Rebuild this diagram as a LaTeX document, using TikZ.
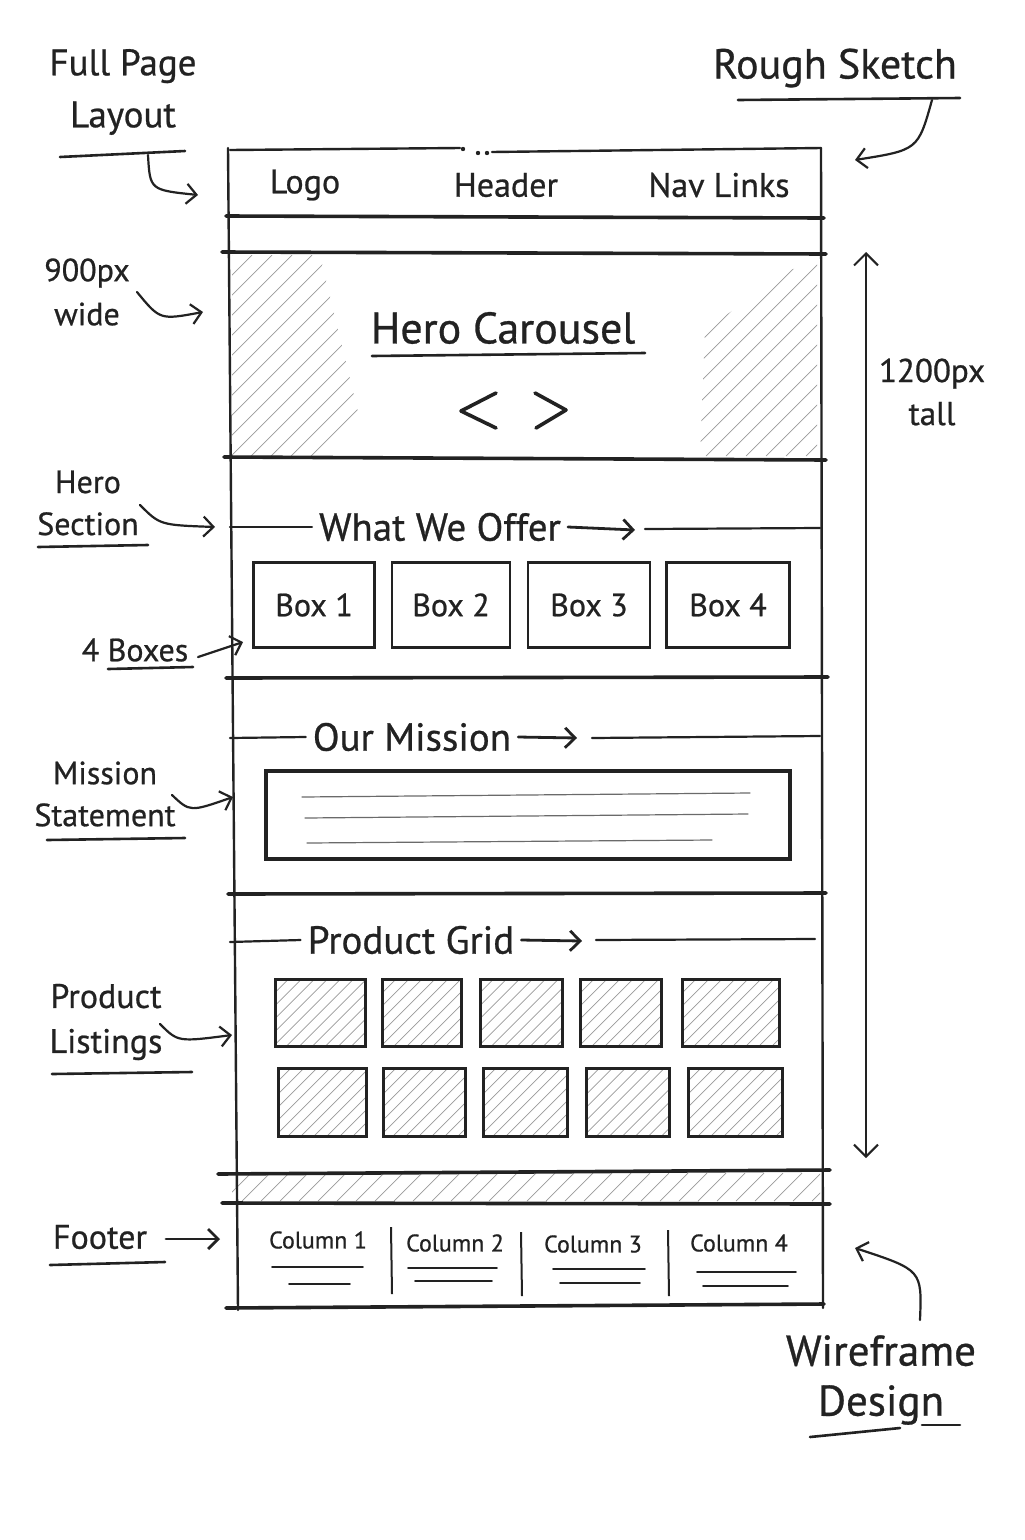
\documentclass[tikz,border=0pt]{standalone}
\usepackage{fontspec}
\setmainfont{PT Sans}[FakeBold=0.7]
\usetikzlibrary{arrows.meta}
\definecolor{ink}{HTML}{222222}
\definecolor{hatchc}{HTML}{9A9A9A}
\definecolor{softc}{HTML}{6A6A6A}
\newcommand\hatchlines[5]{%
  \pgfmathsetmacro\hH{#4-#2}%
  \pgfmathsetmacro\hstart{#1-\hH}%
  \pgfmathsetmacro\hnext{\hstart+#5}%
  \foreach \hx in {\hstart,\hnext,...,#3} {\draw[hatchline] (\hx,#4) -- ++(\hH,-\hH);}%
}
\newcommand\pbox[5]{%
  \pgfmathsetmacro\pxa{#2-#4/2}\pgfmathsetmacro\pxb{#2+#4/2}%
  \pgfmathsetmacro\pya{#3-#5/2}\pgfmathsetmacro\pyb{#3+#5/2}%
  \begin{scope}\clip (\pxa,\pya) rectangle (\pxb,\pyb); \hatchlines{\pxa}{\pya}{\pxb}{\pyb}{13}\end{scope}%
  \node[pboxst, minimum width=#4pt, minimum height=#5pt] (#1) at (#2,#3) {};%
}
\begin{document}
\begin{tikzpicture}[x=1pt,y=-1pt,
  framest/.style={draw=ink, line width=2.4pt, line cap=round},
  sepst/.style={draw=ink, line width=3.6pt, line cap=round},
  thinst/.style={draw=ink, line width=2.2pt, line cap=round},
  hatchline/.style={draw=hatchc, line width=0.7pt},
  lbl/.style={text=ink, inner sep=0pt, font=\fontsize{34}{40}\selectfont},
  ttl/.style={text=ink, inner sep=7pt, font=\fontsize{39}{44}\selectfont},
  ann/.style={text=ink, inner sep=0pt, align=center},
  boxst/.style={draw=ink, line width=2.8pt, inner sep=0pt, text=ink, font=\fontsize{32}{36}\selectfont},
  pboxst/.style={draw=ink, line width=3pt, inner sep=0pt},
  colst/.style={text=ink, inner sep=0pt, font=\fontsize{24}{28}\selectfont},
  arr/.style={draw=ink, line width=2.2pt, line cap=round, -{Straight Barb[length=10pt,width=20pt,line width=2.2pt]}},
  ularr/.style={draw=ink, line width=2.8pt, line cap=round, -{Straight Barb[length=10pt,width=20pt,line width=2.8pt]}},
  uline/.style={draw=ink, line width=2.6pt, line cap=round},
  textline/.style={draw=softc, line width=1.2pt, line cap=round}
]
\fill[white] (0,0) rectangle (1025,1540);
\useasboundingbox (0,0) rectangle (1025,1540);

% ---------- hatching ----------
\begin{scope}
  \clip (232,255) -- (320,255) -- (360,420) -- (320,456) -- (232,456) -- cycle;
  \hatchlines{232}{255}{360}{456}{20}
\end{scope}
\begin{scope}
  \clip (700,456) -- (705,330) -- (790,270) -- (817,262) -- (817,456) -- cycle;
  \hatchlines{700}{262}{817}{456}{20}
\end{scope}
\begin{scope}
  \clip (232,1173) rectangle (820,1201);
  \hatchlines{232}{1173}{820}{1201}{19}
\end{scope}

% ---------- frame ----------
\coordinate (ftl) at (228,148);
\coordinate (ftr) at (821,148);
\coordinate (fbl) at (238,1310);
\coordinate (fbr) at (823,1308);
\draw[framest] (ftl) -- (fbl);
\draw[framest] (ftr) -- (fbr);
\coordinate (tA) at (230,150); \coordinate (tB) at (460,148);
\coordinate (tC) at (492,152); \coordinate (tD) at (821,148);
\draw[framest] (tA) -- (tB);
\draw[framest] (tC) -- (tD);
\fill[ink] (463,149) circle (2.2pt) (478,153) circle (2.2pt) (487,153) circle (2.2pt);

% section separators
\coordinate (s1a) at (226,216); \coordinate (s1b) at (824,218);
\coordinate (s2a) at (222,252); \coordinate (s2b) at (826,254);
\coordinate (s3a) at (224,457); \coordinate (s3b) at (826,460);
\coordinate (s4a) at (226,678); \coordinate (s4b) at (828,677);
\coordinate (s5a) at (228,894); \coordinate (s5b) at (826,893);
\coordinate (s6a) at (218,1174); \coordinate (s6b) at (830,1170);
\coordinate (s7a) at (222,1203); \coordinate (s7b) at (830,1204);
\coordinate (s8a) at (226,1308); \coordinate (s8b) at (824,1304);
\foreach \s in {1,...,8} {\draw[sepst] (s\s a) -- (s\s b);}

% ---------- header ----------
\node[lbl] (logo) at (305,185) {Logo};
\node[lbl] (header) at (506,185) {Header};
\node[lbl] (nav) at (719,185) {Nav Links};

% ---------- hero ----------
\node[text=ink, inner sep=0pt, font=\fontsize{44}{50}\selectfont] (hero) at (503,328) {Hero Carousel};
\coordinate (hul) at (372,356); \coordinate (hur) at (645,353);
\draw[uline] (hul) -- (hur);
\coordinate (lt1) at (496,393); \coordinate (lt2) at (461,411); \coordinate (lt3) at (496,428);
\coordinate (gt1) at (535,393); \coordinate (gt2) at (566,410); \coordinate (gt3) at (536,428);
\draw[draw=ink, line width=3.6pt, line cap=round, line join=round] (lt1) -- (lt2) -- (lt3);
\draw[draw=ink, line width=3.6pt, line cap=round, line join=round] (gt1) -- (gt2) -- (gt3);

% ---------- what we offer ----------
\node[ttl] (offer) at (440,527) {What We Offer};
\coordinate (ofl) at (230,527);
\coordinate (ofa) at (635,530);
\coordinate (ofb) at (645,529); \coordinate (ofr) at (820,528);
\draw[thinst] (ofl) -- (offer.west);
\draw[ularr] (offer.east) -- (ofa);
\draw[thinst] (ofb) -- (ofr);
\node[boxst, minimum width=121pt, minimum height=85pt] (b1) at (314,605) {Box 1};
\node[boxst, minimum width=118pt, minimum height=85pt] (b2) at (451,605) {Box 2};
\node[boxst, minimum width=122pt, minimum height=85pt] (b3) at (589,605) {Box 3};
\node[boxst, minimum width=123pt, minimum height=85pt] (b4) at (728,605) {Box 4};

% ---------- our mission ----------
\node[ttl] (mission) at (412,737) {Our Mission};
\coordinate (msl) at (230,738);
\coordinate (msa) at (577,738);
\coordinate (msb) at (592,738); \coordinate (msr) at (820,736);
\draw[thinst] (msl) -- (mission.west);
\draw[ularr] (mission.east) -- (msa);
\draw[thinst] (msb) -- (msr);
\node[draw=ink, line width=3.2pt, minimum width=524pt, minimum height=88pt, inner sep=0pt] (mbox) at (528,815) {};
\coordinate (m1a) at (302,797); \coordinate (m1b) at (750,793);
\coordinate (m2a) at (305,818); \coordinate (m2b) at (748,814);
\coordinate (m3a) at (307,843); \coordinate (m3b) at (712,840);
\draw[textline] (m1a) -- (m1b);
\draw[textline] (m2a) -- (m2b);
\draw[textline] (m3a) -- (m3b);

% ---------- product grid ----------
\node[ttl] (grid) at (411,940) {Product Grid};
\coordinate (grl) at (230,942);
\coordinate (gra) at (582,941);
\coordinate (grb) at (596,940); \coordinate (grr) at (815,939);
\draw[thinst] (grl) -- (grid.west);
\draw[ularr] (grid.east) -- (gra);
\draw[thinst] (grb) -- (grr);
\pbox{p11}{320}{1013}{90}{67}
\pbox{p12}{422}{1013}{79}{67}
\pbox{p13}{521}{1013}{82}{67}
\pbox{p14}{621}{1013}{81}{67}
\pbox{p15}{731}{1013}{97}{67}
\pbox{p21}{322}{1102}{88}{68}
\pbox{p22}{424}{1102}{82}{68}
\pbox{p23}{525}{1102}{84}{68}
\pbox{p24}{628}{1102}{83}{68}
\pbox{p25}{735}{1102}{94}{68}

% ---------- footer ----------
\node[colst] (c1) at (318,1240) {Column 1};
\node[colst] (c2) at (455,1243) {Column 2};
\node[colst] (c3) at (593,1244) {Column 3};
\node[colst] (c4) at (739,1243) {Column 4};
\coordinate (d1a) at (391,1227); \coordinate (d1b) at (392,1294);
\coordinate (d2a) at (521,1232); \coordinate (d2b) at (522,1296);
\coordinate (d3a) at (668,1230); \coordinate (d3b) at (669,1296);
\draw[draw=ink, line width=2pt] (d1a) -- (d1b);
\draw[draw=ink, line width=2pt] (d2a) -- (d2b);
\draw[draw=ink, line width=2pt] (d3a) -- (d3b);
\foreach \xa/\xb/\ya/\xc/\xd/\yb [count=\i] in {272/363/1267/289/350/1284, 408/497/1268/415/492/1281, 553/645/1269/560/640/1283, 697/796/1272/703/788/1286}{
  \coordinate (fa\i) at (\xa,\ya); \coordinate (fb\i) at (\xb,\ya);
  \coordinate (fc\i) at (\xc,\yb); \coordinate (fd\i) at (\xd,\yb);
  \draw[draw=ink, line width=1.8pt, line cap=round] (fa\i) -- (fb\i);
  \draw[draw=ink, line width=1.8pt, line cap=round] (fc\i) -- (fd\i);
}

% ---------- left annotations ----------
\node[ann, font=\fontsize{37}{52}\selectfont] (fpl) at (123,92) {Full Page\\Layout};
\coordinate (fpu1) at (60,157); \coordinate (fpu2) at (185,151);
\draw[uline] (fpu1) -- (fpu2);
\coordinate (fps) at (148,155); \coordinate (fpe) at (198,195);
\draw[arr] (fps) .. controls (150,190) .. (fpe);

\node[ann, font=\fontsize{32}{44}\selectfont] (wide) at (87,292) {900px\\wide};
\coordinate (wds) at (137,292); \coordinate (wde) at (203,312);
\draw[arr] (wds) .. controls (160,320) .. (wde);

\node[ann, font=\fontsize{32}{42}\selectfont] (herosec) at (88,503) {Hero\\Section};
\coordinate (hsu1) at (38,547); \coordinate (hsu2) at (148,545);
\draw[uline] (hsu1) -- (hsu2);
\coordinate (hss) at (140,505); \coordinate (hse) at (215,527);
\draw[arr] (hss) .. controls (160,525) .. (hse);

\node[ann, font=\fontsize{32}{40}\selectfont] (boxes) at (135,650) {4 Boxes};
\coordinate (bxu1) at (108,669); \coordinate (bxu2) at (193,667);
\draw[uline] (bxu1) -- (bxu2);
\coordinate (bxs) at (198,657); \coordinate (bxe) at (243,642);
\draw[arr] (bxs) -- (bxe);

\node[ann, font=\fontsize{32}{42}\selectfont] (mstate) at (105,794) {Mission\\Statement};
\coordinate (msu1) at (47,840); \coordinate (msu2) at (185,838);
\draw[uline] (msu1) -- (msu2);
\coordinate (mss) at (172,795); \coordinate (mse) at (233,797);
\draw[arr] (mss) .. controls (190,812) .. (mse);

\node[ann, font=\fontsize{34}{45}\selectfont] (plist) at (106,1022) {Product\\Listings};
\coordinate (plu1) at (52,1074); \coordinate (plu2) at (192,1072);
\draw[uline] (plu1) -- (plu2);
\coordinate (pls) at (160,1024); \coordinate (ple) at (232,1035);
\draw[arr] (pls) .. controls (178,1042) .. (ple);

\node[ann, font=\fontsize{34}{40}\selectfont] (footer) at (100,1237) {Footer};
\coordinate (ftu1) at (50,1265); \coordinate (ftu2) at (165,1262);
\draw[uline] (ftu1) -- (ftu2);
\coordinate (fts) at (166,1239); \coordinate (fte) at (220,1239);
\draw[ularr] (fts) -- (fte);

% ---------- right annotations ----------
\node[ann, font=\fontsize{42}{48}\selectfont] (rough) at (835,68) {Rough Sketch};
\coordinate (rsu1) at (738,100); \coordinate (rsu2) at (960,98);
\draw[uline] (rsu1) -- (rsu2);
\coordinate (rss) at (932,100); \coordinate (rse) at (855,160);
\draw[arr] (rss) .. controls (918,150) .. (rse);

\coordinate (hta) at (866,252); \coordinate (htb) at (866,1158);
\draw[draw=ink, line width=2pt, {Straight Barb[length=12pt,width=24pt,line width=2pt]}-{Straight Barb[length=12pt,width=24pt,line width=2pt]}] (hta) -- (htb);
\node[ann, font=\fontsize{33}{43}\selectfont] (tall) at (932,392) {1200px\\tall};

\node[ann, font=\fontsize{43}{50}\selectfont] (wire) at (881,1380) {Wireframe\\Design};
\coordinate (wfu1) at (810,1437); \coordinate (wfu2) at (900,1428);
\coordinate (wfu3) at (922,1425); \coordinate (wfu4) at (960,1425);
\draw[uline] (wfu1) -- (wfu2);
\draw[uline] (wfu3) -- (wfu4);
\coordinate (wfs) at (920,1320); \coordinate (wfe) at (855,1248);
\draw[arr] (wfs) .. controls (922,1270) .. (wfe);
\end{tikzpicture}
\end{document}
